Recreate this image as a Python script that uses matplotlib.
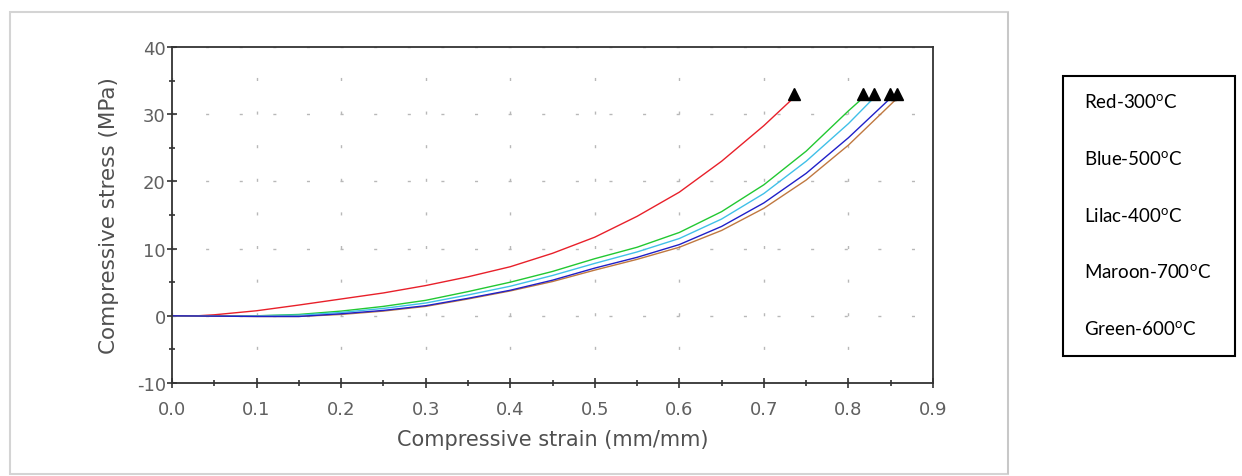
import matplotlib
matplotlib.use("Agg")
import matplotlib.pyplot as plt
from matplotlib.patches import Rectangle
from matplotlib.ticker import MultipleLocator, FormatStrFormatter

# ---- data (strain mm/mm, stress MPa) ----
red_strain = [0.0, 0.03, 0.05, 0.10, 0.15, 0.20, 0.25, 0.30, 0.35, 0.40, 0.45, 0.50, 0.55, 0.60, 0.65, 0.70, 0.734]
red_stress = [0.0, 0.0, 0.15, 0.75, 1.6, 2.5, 3.4, 4.5, 5.8, 7.3, 9.3, 11.7, 14.8, 18.4, 23.0, 28.3, 32.3]

green_strain = [0.0, 0.10, 0.15, 0.20, 0.25, 0.30, 0.35, 0.40, 0.45, 0.50, 0.55, 0.60, 0.65, 0.70, 0.75, 0.80, 0.816]
green_stress = [0.0, 0.0, 0.2, 0.7, 1.4, 2.3, 3.6, 5.0, 6.6, 8.5, 10.2, 12.4, 15.5, 19.5, 24.5, 30.5, 32.3]

lilac_strain = [0.0, 0.10, 0.15, 0.20, 0.25, 0.30, 0.35, 0.40, 0.45, 0.50, 0.55, 0.60, 0.65, 0.70, 0.75, 0.80, 0.829]
lilac_stress = [0.0, 0.0, 0.1, 0.5, 1.1, 1.9, 3.1, 4.4, 6.0, 7.8, 9.5, 11.5, 14.4, 18.2, 23.0, 28.6, 32.3]

blue_strain = [0.0, 0.10, 0.15, 0.20, 0.25, 0.30, 0.35, 0.40, 0.45, 0.50, 0.55, 0.60, 0.65, 0.70, 0.75, 0.80, 0.849]
blue_stress = [0.0, -0.1, -0.1, 0.3, 0.8, 1.5, 2.6, 3.8, 5.3, 7.1, 8.7, 10.6, 13.3, 16.8, 21.2, 26.5, 32.3]

maroon_strain = [0.0, 0.10, 0.15, 0.20, 0.25, 0.30, 0.35, 0.40, 0.45, 0.50, 0.55, 0.60, 0.65, 0.70, 0.75, 0.80, 0.857]
maroon_stress = [0.0, -0.1, -0.1, 0.2, 0.7, 1.4, 2.5, 3.7, 5.1, 6.8, 8.4, 10.2, 12.7, 16.0, 20.2, 25.4, 32.3]

failure_strain = [0.736, 0.817, 0.830, 0.849, 0.857]
failure_stress = [33.0, 33.0, 33.0, 33.0, 33.0]

legend_labels = ["Red-300", "Blue-500", "Lilac-400", "Maroon-700", "Green-600"]

x_ticks = [0.0, 0.1, 0.2, 0.3, 0.4, 0.5, 0.6, 0.7, 0.8, 0.9]
y_ticks = [-10, 0, 10, 20, 30, 40]

plt.rcParams["mathtext.fontset"] = "custom"
plt.rcParams["mathtext.rm"] = "Lato"
plt.rcParams["axes.unicode_minus"] = False

W, H = 1242, 477
fig = plt.figure(figsize=(W / 100, H / 100), dpi=100)
fig.patch.set_facecolor("white")

# outer frame of chart panel
fig.patches.append(Rectangle((10 / W, 1 - 475 / H), 998 / W, 462 / H, transform=fig.transFigure,
                             fill=False, edgecolor="#d4d4d4", lw=1.5))
fig.patches.append(Rectangle((1007 / W, 1 - 475 / H), 2 / W, 462 / H, transform=fig.transFigure,
                             facecolor="#c8c8c8", edgecolor="none"))

ax = fig.add_axes([172 / W, 1 - 384 / H, (933 - 172) / W, (384 - 48) / H])

ax.plot(red_strain, red_stress, color="#e8202a", lw=1.0)
ax.plot(green_strain, green_stress, color="#22c832", lw=1.0)
ax.plot(lilac_strain, lilac_stress, color="#40c0e8", lw=1.0)
ax.plot(maroon_strain, maroon_stress, color="#c07840", lw=1.0)
ax.plot(blue_strain, blue_stress, color="#2020c8", lw=1.0)
ax.plot(failure_strain, failure_stress, linestyle="none", marker="^", color="black", markersize=8)

ax.set_xlim(0, 0.9)
ax.set_ylim(-10, 40)
ax.set_xticks(x_ticks)
ax.set_yticks(y_ticks)
ax.xaxis.set_minor_locator(MultipleLocator(0.05))
ax.yaxis.set_minor_locator(MultipleLocator(5))
ax.xaxis.set_major_formatter(FormatStrFormatter("%.1f"))

grid_kw = dict(color="#b8b8b8", lw=1.0, linestyle=(0, (2.2, 22.0)))
ax.grid(True, which="major", **grid_kw)
ax.set_axisbelow(True)

for s in ax.spines.values():
    s.set_color("#333333")
    s.set_linewidth(1.3)

ax.tick_params(axis="both", which="both", direction="inout", colors="#333333",
               labelcolor="#606060", top=False, right=False)
ax.tick_params(axis="x", which="major", length=7, width=1.2, pad=9, labelsize=13)
ax.tick_params(axis="y", which="major", length=7, width=1.2, pad=1, labelsize=13)
ax.tick_params(axis="both", which="minor", length=5, width=1.2)

ax.set_xlabel("Compressive strain (mm/mm)", fontsize=15, color="#505050", labelpad=8)
ax.set_ylabel("Compressive stress (MPa)", fontsize=15.5, color="#505050", labelpad=13)

# legend box (plain text box)
fig.patches.append(Rectangle((1063 / W, 1 - 357 / H), 172 / W, 280 / H, transform=fig.transFigure,
                             fill=False, edgecolor="black", lw=1.5))
row_y = [103, 160, 217, 273, 330]
for lab, yy in zip(legend_labels, row_y):
    fig.text(1084 / W, 1 - yy / H, lab + r"$^{\mathrm{o}}$C", fontsize=13.5, family="Lato",
             color="black", va="center", ha="left")

fig.savefig("out.png", dpi=100, facecolor="white")
